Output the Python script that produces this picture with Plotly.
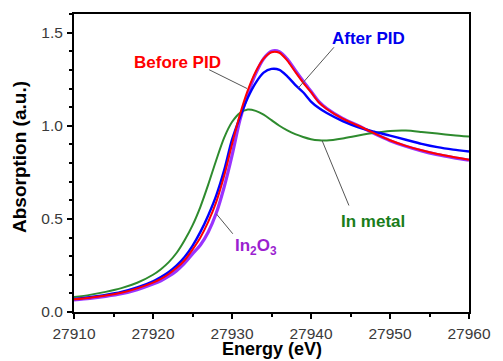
import plotly.graph_objects as go

energy = [27910, 27912, 27914, 27916, 27918, 27920, 27921, 27922, 27923, 27924, 27925,
          27926, 27927, 27928, 27929, 27930, 27931, 27932, 27933, 27934, 27935, 27936,
          27937, 27938, 27939, 27940, 27941, 27942, 27944, 27946, 27948, 27950, 27952,
          27954, 27956, 27958, 27960]

in_metal = [0.080, 0.092, 0.108, 0.128, 0.157, 0.200, 0.230, 0.268, 0.318, 0.385, 0.465,
            0.565, 0.685, 0.815, 0.935, 1.020, 1.068, 1.087, 1.080, 1.060, 1.030, 1.000,
            0.975, 0.955, 0.940, 0.928, 0.922, 0.921, 0.932, 0.948, 0.962, 0.972, 0.974,
            0.967, 0.958, 0.949, 0.942]

after_pid = [0.070, 0.080, 0.092, 0.108, 0.132, 0.165, 0.188, 0.215, 0.250, 0.295, 0.355,
             0.430, 0.520, 0.625, 0.760, 0.925, 1.045, 1.150, 1.230, 1.285, 1.305, 1.300,
             1.265, 1.220, 1.180, 1.130, 1.095, 1.068, 1.025, 0.992, 0.968, 0.947, 0.925,
             0.903, 0.885, 0.872, 0.862]

before_pid = [0.068, 0.077, 0.088, 0.103, 0.127, 0.158, 0.178, 0.204, 0.237, 0.278, 0.335,
              0.400, 0.485, 0.590, 0.730, 0.900, 1.060, 1.190, 1.290, 1.360, 1.395, 1.392,
              1.350, 1.290, 1.232, 1.180, 1.125, 1.090, 1.038, 1.000, 0.960, 0.922, 0.892,
              0.868, 0.848, 0.832, 0.818]

in2o3 = [0.065, 0.073, 0.084, 0.098, 0.120, 0.150, 0.168, 0.192, 0.222, 0.262, 0.312,
         0.360, 0.430, 0.530, 0.670, 0.840, 1.030, 1.170, 1.280, 1.360, 1.400, 1.398,
         1.358, 1.298, 1.240, 1.185, 1.130, 1.093, 1.040, 1.000, 0.958, 0.920, 0.890,
         0.865, 0.845, 0.829, 0.815]

x_ticks = [27910, 27920, 27930, 27940, 27950, 27960]
x_tick_labels = ["27910", "27920", "27930", "27940", "27950", "27960"]
y_ticks = [0.0, 0.5, 1.0, 1.5]
y_tick_labels = ["0.0", "0.5", "1.0", "1.5"]

# label: (text, color, text_x, text_y, line_x0, line_y0, line_x1, line_y1)
labels = [
    ("Before PID", "#ff0000", 27923.1, 1.339, 27927.1, 1.301, 27931.9, 1.200),
    ("After PID", "#0000ee", 27947.3, 1.468, 27942.9, 1.421, 27938.4, 1.203),
    ("In metal", "#1a7d1a", 27947.8, 0.486, 27944.8, 0.572, 27941.4, 0.921),
    ("In<sub>2</sub>O<sub>3</sub>", "#9b1fd0", 27933.0, 0.347, 27930.1, 0.420, 27928.0, 0.528),
]

FONT = "Liberation Sans, Arial"

fig = go.Figure()
fig.add_trace(go.Scatter(x=energy, y=in2o3, mode="lines", name="In2O3",
                         line=dict(color="#9933ff", width=3.2, shape="spline", smoothing=0.8)))
fig.add_trace(go.Scatter(x=energy, y=in_metal, mode="lines", name="In metal",
                         line=dict(color="#2e8b2e", width=2, shape="spline", smoothing=0.8)))
fig.add_trace(go.Scatter(x=energy, y=after_pid, mode="lines", name="After PID",
                         line=dict(color="#0000ff", width=2.4, shape="spline", smoothing=0.8)))
fig.add_trace(go.Scatter(x=energy, y=before_pid, mode="lines", name="Before PID",
                         line=dict(color="#ff0000", width=2, shape="spline", smoothing=0.8)))

for text, color, tx, ty, x0, y0, x1, y1 in labels:
    fig.add_shape(type="line", x0=x0, y0=y0, x1=x1, y1=y1, xref="x", yref="y",
                  line=dict(color="#555555", width=1))
    fig.add_annotation(x=tx, y=ty, text=text, showarrow=False,
                       font=dict(family=FONT, size=17, color=color, weight="bold"))

# axis titles
fig.add_annotation(x=0.5, y=0, xref="paper", yref="paper", yshift=-37, showarrow=False,
                   text="Energy (eV)", yanchor="middle",
                   font=dict(family=FONT, size=18, color="black", weight="bold"))
fig.add_annotation(x=0, y=0.5, xref="paper", yref="paper", xshift=-55, yshift=6,
                   showarrow=False, text="Absorption (a.u.)", textangle=-90,
                   xanchor="center", yanchor="middle",
                   font=dict(family=FONT, size=19, color="black", weight="bold"))

axis_common = dict(showline=True, linecolor="black", linewidth=2, mirror=True,
                   ticks="outside", ticklen=5, tickwidth=2, tickcolor="black",
                   showgrid=False, zeroline=False, ticklabeloverflow="allow",
                   tickfont=dict(family=FONT, size=15.5, color="#3a3a3a"))

fig.update_xaxes(range=[27910, 27960], tickvals=x_ticks, ticktext=x_tick_labels,
                 ticklabelstandoff=1, **axis_common,
                 minor=dict(dtick=5, ticks="outside", ticklen=3, tickwidth=2, tickcolor="black"))
fig.update_yaxes(range=[0, 1.6], tickvals=y_ticks, ticktext=y_tick_labels,
                 ticklabelstandoff=1, **axis_common,
                 minor=dict(dtick=0.1, ticks="outside", ticklen=3, tickwidth=2, tickcolor="black"))

fig.update_layout(width=503, height=361, margin=dict(l=74, r=22, t=13, b=49),
                  paper_bgcolor="white", plot_bgcolor="white", showlegend=False)

fig.write_html("out.html", config={"displayModeBar": False},
               post_script=("document.documentElement.style.overflow='hidden';"
                            "document.body.style.overflow='hidden';"
                            "document.body.style.margin='0';document.body.style.padding='0';"
                            "window.scrollTo(0,0);"))
